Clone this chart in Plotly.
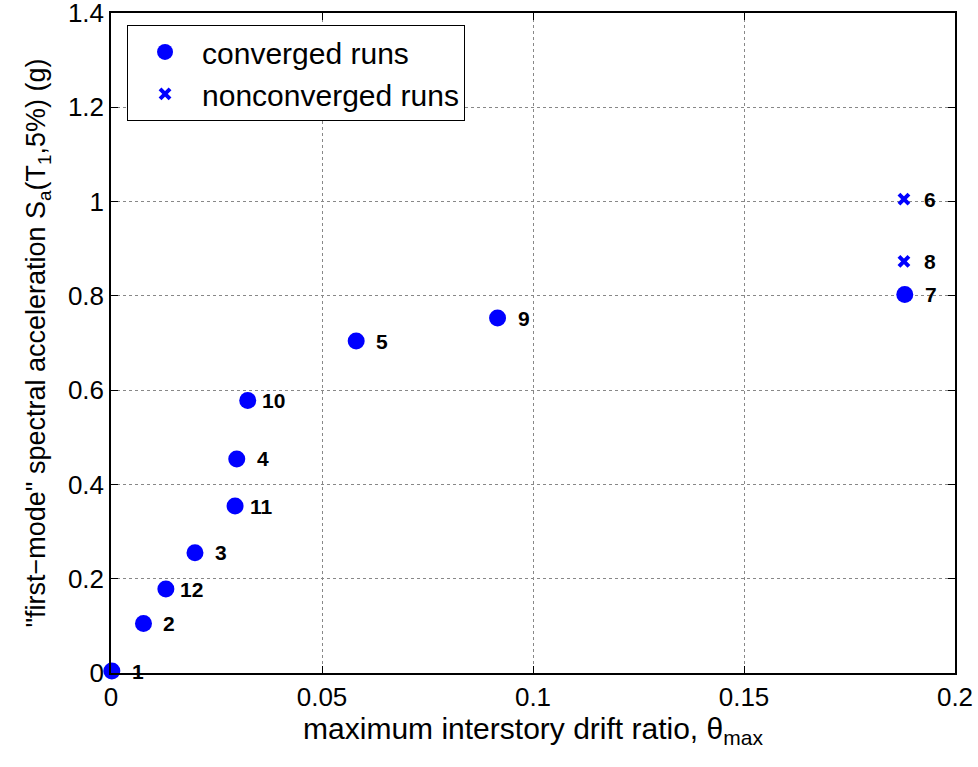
import plotly.graph_objects as go

conv_ids = ["1", "2", "12", "3", "11", "4", "10", "5", "9", "7"]
conv_x = [0.0002, 0.0077, 0.0130, 0.0199, 0.0294, 0.0298, 0.0324, 0.0581, 0.0916, 0.1881]
conv_y = [0.004, 0.105, 0.178, 0.255, 0.354, 0.454, 0.578, 0.704, 0.753, 0.803]

nonconv_ids = ["8", "6"]
nonconv_x = [0.1879, 0.1879]
nonconv_y = [0.873, 1.005]

x_ticks = [0, 0.05, 0.1, 0.15, 0.2]
x_ticklabels = ["0", "0.05", "0.1", "0.15", "0.2"]
y_ticks = [0, 0.2, 0.4, 0.6, 0.8, 1.0, 1.2, 1.4]
y_ticklabels = ["0", "0.2", "0.4", "0.6", "0.8", "1", "1.2", "1.4"]

FONT = "Liberation Sans, Arial, sans-serif"

fig = go.Figure()
fig.add_trace(go.Scatter(
    x=conv_x, y=conv_y, mode="markers", name="converged runs",
    marker=dict(symbol="circle", size=17, color="#0000ff"),
    cliponaxis=False,
))
fig.add_trace(go.Scatter(
    x=nonconv_x, y=nonconv_y, mode="markers", name="nonconverged runs",
    marker=dict(symbol="x-thin-open", size=10, color="#0000ff",
                line=dict(width=4, color="#0000ff")),
    cliponaxis=False,
))

# run-number labels, centred a fixed distance to the right of each marker
for xs, ys, ids in [(conv_x, conv_y, conv_ids), (nonconv_x, nonconv_y, nonconv_ids)]:
    for xv, yv, s in zip(xs, ys, ids):
        fig.add_annotation(
            x=xv, y=yv, xref="x", yref="y", text="<b>" + s + "</b>",
            showarrow=False, xanchor="center", yanchor="middle", xshift=26,
            font=dict(family=FONT, size=21, color="black"),
        )

axis_common = dict(
    showline=True, linecolor="black", linewidth=1.5, mirror="ticks",
    ticks="inside", ticklen=7, tickcolor="black", tickwidth=1,
    showgrid=True, gridcolor="#888888", griddash="dot", gridwidth=1,
    zeroline=False, automargin=False, ticklabeloverflow="allow",
    tickfont=dict(family=FONT, size=26, color="black"),
)

fig.update_xaxes(
    range=[0, 0.2], tickvals=x_ticks, ticktext=x_ticklabels,
    title=dict(text="maximum interstory drift ratio, θ<sub>max</sub>",
               font=dict(family=FONT, size=30, color="black"), standoff=5),
    **axis_common,
)
fig.update_yaxes(
    range=[0, 1.4], tickvals=y_ticks, ticktext=y_ticklabels,
    title=dict(text="\"first−mode\" spectral acceleration S<sub>a</sub>(T<sub>1</sub>,5%) (g)",
               font=dict(family=FONT, size=27, color="black"), standoff=14),
    **axis_common,
)

fig.update_layout(
    width=978, height=767,
    margin=dict(l=111, r=23, t=13, b=94, autoexpand=False),
    paper_bgcolor="white", plot_bgcolor="white",
    font=dict(family=FONT, color="black"),
    legend=dict(
        x=0.019, y=0.982, xanchor="left", yanchor="top",
        bgcolor="white", bordercolor="black", borderwidth=1,
        font=dict(family=FONT, size=30, color="black"),
        itemsizing="trace", tracegroupgap=0, itemwidth=64,
    ),
    showlegend=True,
)

fig.write_html(
    "out.html",
    config={"displayModeBar": False},
    post_script="document.body.style.margin='0';document.body.style.overflow='hidden';",
)
